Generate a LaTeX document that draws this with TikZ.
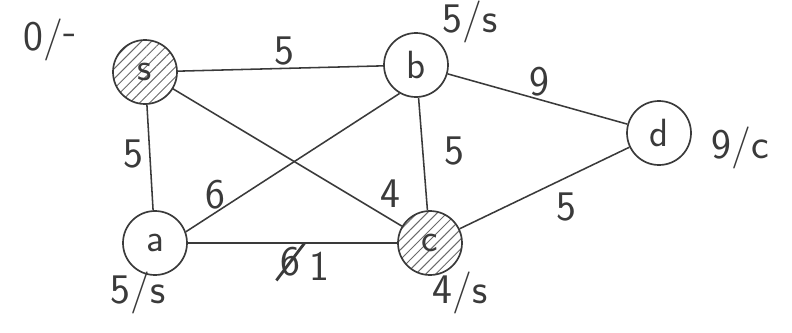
\documentclass[tikz,border=0pt]{standalone}
\usepackage{xcolor}
\usepackage{tikz}
\usetikzlibrary{positioning, patterns.meta, shapes.misc}
\definecolor{pencil}{HTML}{3a3a3a}
\tikzset{
  vertex/.style={draw=pencil, circle, line width=1.2pt, minimum size=1.6cm,
                 inner sep=0pt, font=\sffamily\fontsize{28}{30}\selectfont, text=pencil},
  visited/.style={vertex, pattern={Lines[angle=45,distance=5pt,line width=0.7pt]},
                  pattern color=pencil!75},
  edge/.style={draw=pencil, line width=1.1pt},
  wt/.style={font=\sffamily\fontsize{30}{32}\selectfont, text=pencil, inner sep=2pt},
  dist/.style={font=\sffamily\fontsize{30}{32}\selectfont, text=pencil, inner sep=1pt}
}

\begin{document}
\begin{tikzpicture}
    \useasboundingbox (0,0) rectangle (19.8,8.3);

    \node[visited] (s) at (3.625,6.5) {s};
    \node[vertex] (b) at (10.4,6.675) {b};
    \node[vertex] (d) at (16.475,4.975) {d};
    \node[vertex] (a) at (3.875,2.225) {a};
    \node[visited] (c) at (10.75,2.225) {c};

    % distance / predecessor
    \node[dist] (ls) at (1.25,7.3) {0/\raisebox{.35ex}{-}};
    \node[dist] (lb) at (11.75,7.75) {5/s};
    \node[dist] (ld) at (18.5,4.6) {9/c};
    \node[dist] (la) at (3.45,0.975) {5/s};
    \node[dist] (lc) at (11.5,0.975) {4/s};

    \draw[edge] (s) -- node[wt, above, pos=0.52] (wsb) {5} (b);
    \draw[edge] (s) -- node[wt, left, pos=0.47, xshift=-2pt] (wsa) {5} (a);
    \draw[edge] (b.240) -- node[wt, above, pos=0.86] (wba) {6} (a.20);
    \draw[edge] (s) -- node[wt, above, pos=0.95, yshift=6pt] (wsc) {4} (c);
    \draw[edge] (b) -- node[wt, right, pos=0.47, xshift=0.45cm] (wbc) {5} (c);
    \draw[edge] (b) -- node[wt, above, pos=0.51] (wbd) {9} (d);
    \draw[edge] (c) -- node[wt, below right, pos=0.55, yshift=-4pt] (wcd) {5} (d);
    \draw[edge] (a) -- node[wt, below, pos=0.5, xshift=-0.05cm, strike out,
                            draw=pencil, line width=2pt] (wac0) {6}
                       node[wt, below, pos=0.63, yshift=-4pt] (wac) {1} (c);
  \end{tikzpicture}
\end{document}
